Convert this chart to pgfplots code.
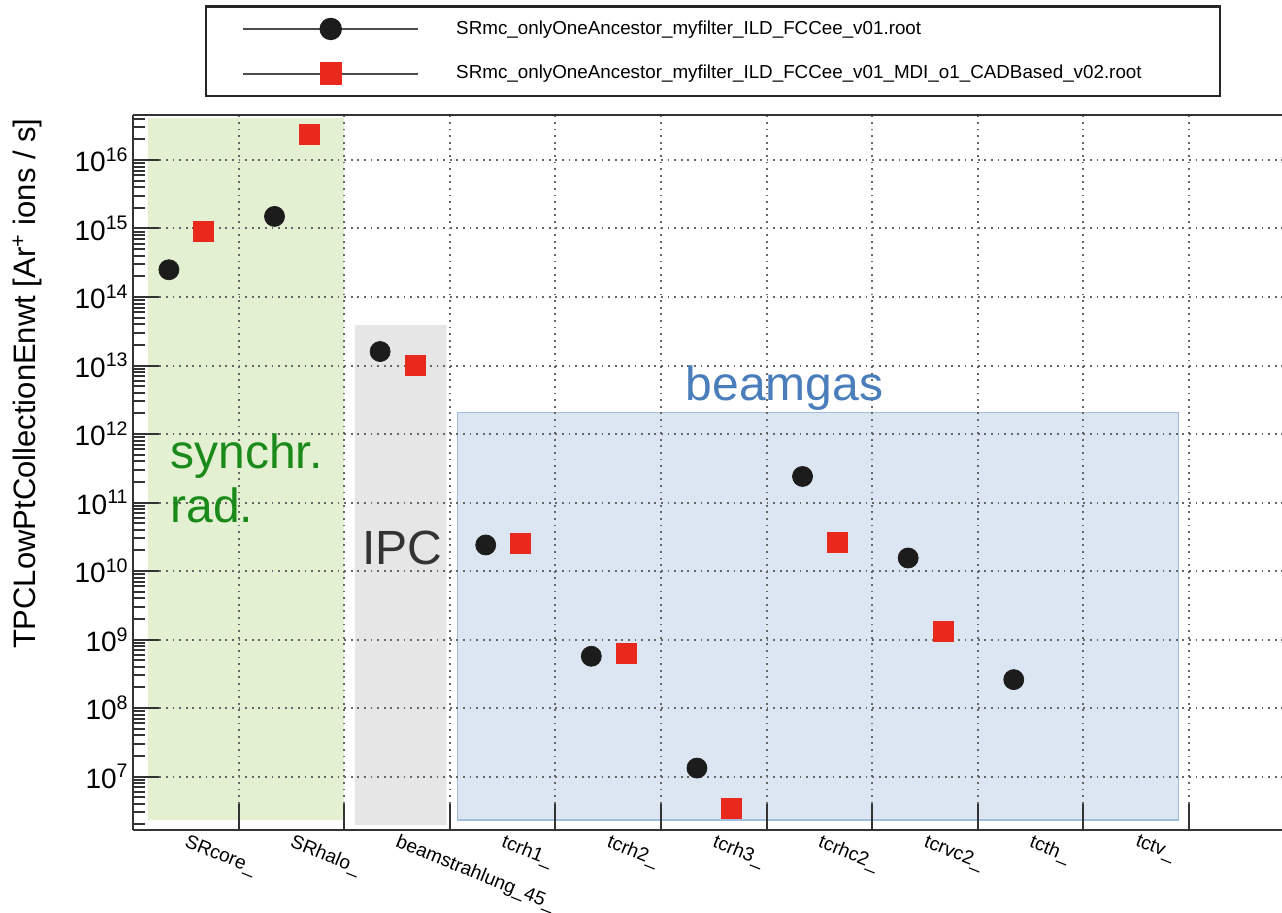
\documentclass[border=0pt]{standalone}
\usepackage{fontspec}
\setmainfont{Liberation Sans}
\usepackage{pgfplots}
\pgfplotsset{compat=1.18}
\definecolor{srfill}{HTML}{E4F0D2}
\definecolor{ipcfill}{HTML}{E6E6E6}
\definecolor{bgfill}{HTML}{DCE6F2}
\definecolor{bgedge}{HTML}{A3BDDD}
\definecolor{syncol}{HTML}{1A8A1A}
\definecolor{ipccol}{HTML}{333333}
\definecolor{bgcol}{HTML}{4A7EBB}
\definecolor{mkblack}{HTML}{1C1C1C}
\definecolor{mkred}{HTML}{E8291C}
\begin{document}
\begin{tikzpicture}
\begin{axis}[
  set layers,
  scale only axis,
  width=574.5pt, height=357.5pt,
  xmin=0, xmax=10.88,
  ymode=log, ymin=1.66e6, ymax=4.54e16,
  axis x line*=box, axis y line*=left,
  axis line style={-, line width=1.3pt, black!80},
  xtick pos=bottom,
  xtick={0,1,...,10}, xticklabels={},
  extra x ticks={0.5,1.5,2.5,3.5,4.5,5.5,6.5,7.5,8.5,9.5},
  extra x tick labels={SRcore\_, SRhalo\_, beamstrahlung\_45\_, tcrh1\_, tcrh2\_, tcrh3\_, tcrhc2\_, tcrvc2\_, tcth\_, tctv\_},
  extra x tick style={major tick length=0pt, grid=none},
  xticklabel style={font=\fontsize{9.6}{11}\selectfont, rotate=-22, anchor=north west, inner sep=1pt, xshift=1pt, yshift=0pt},
  xmajorgrids, ymajorgrids,
  grid style={black!60, line width=1pt, dash pattern=on 0.9pt off 2.4pt},
  ytick={1e7,1e8,1e9,1e10,1e11,1e12,1e13,1e14,1e15,1e16},
  yticklabels={10\textsuperscript{7},10\textsuperscript{8},10\textsuperscript{9},10\textsuperscript{10},10\textsuperscript{11},10\textsuperscript{12},10\textsuperscript{13},10\textsuperscript{14},10\textsuperscript{15},10\textsuperscript{16}},
  minor ytick={2e6,3e6,4e6,5e6,6e6,7e6,8e6,9e6,
    2e7,3e7,4e7,5e7,6e7,7e7,8e7,9e7,
    2e8,3e8,4e8,5e8,6e8,7e8,8e8,9e8,
    2e9,3e9,4e9,5e9,6e9,7e9,8e9,9e9,
    2e10,3e10,4e10,5e10,6e10,7e10,8e10,9e10,
    2e11,3e11,4e11,5e11,6e11,7e11,8e11,9e11,
    2e12,3e12,4e12,5e12,6e12,7e12,8e12,9e12,
    2e13,3e13,4e13,5e13,6e13,7e13,8e13,9e13,
    2e14,3e14,4e14,5e14,6e14,7e14,8e14,9e14,
    2e15,3e15,4e15,5e15,6e15,7e15,8e15,9e15,
    2e16,3e16,4e16},
  yticklabel style={font=\fontsize{14}{16}\selectfont, inner sep=2pt},
  major tick length=13pt, minor tick length=6pt,
  tick style={black!80, line width=1pt},
  tick align=inside,
  ylabel={TPCLowPtCollectionEnwt [Ar\textsuperscript{+} ions / s]},
  ylabel style={font=\fontsize{15.5}{17}\selectfont, at={(axis description cs:-0.073,1.005)}, anchor=south east, rotate=0},
  legend style={at={(axis description cs:0.505,1.025)}, anchor=south, draw=black!85, line width=1.2pt,
    font=\fontsize{9.4}{11}\selectfont, cells={anchor=west}, inner xsep=18pt, inner ysep=5pt,
    row sep=10pt, column sep=16.5pt},
  legend image code/.code={
    \draw[black!70, line width=1pt] (0pt,0pt) -- (87.5pt,0pt);
    \draw[#1] plot coordinates {(43.75pt,0pt)};
  },
]
% shaded regions
\addplot[on layer=axis background, fill=srfill, draw=none, forget plot]
  coordinates {(0.14,2.32e6) (2.0,2.32e6) (2.0,4.1e16) (0.14,4.1e16) (0.14,2.32e6)};
\addplot[on layer=axis background, fill=ipcfill, draw=none, forget plot]
  coordinates {(2.10,1.95e6) (2.97,1.95e6) (2.97,3.9e13) (2.10,3.9e13) (2.10,1.95e6)};
\addplot[on layer=axis background, fill=bgfill, draw=bgedge, line width=0.6pt, forget plot]
  coordinates {(3.07,2.32e6) (9.90,2.32e6) (9.90,2.04e12) (3.07,2.04e12) (3.07,2.32e6)};
% data
\addplot[only marks, mark=*, mark size=5pt, color=mkblack] coordinates {
  (0.34,2.5e14) (1.34,1.5e15) (2.34,1.6e13) (3.34,2.4e10) (4.34,5.7e8)
  (5.34,1.33e7) (6.34,2.4e11) (7.34,1.55e10) (8.34,2.6e8)};
\addlegendentry{\makebox[362pt][l]{SRmc\_onlyOneAncestor\_myfilter\_ILD\_FCCee\_v01.root}}
\addplot[only marks, mark=square*, mark size=5pt, color=mkred] coordinates {
  (0.67,9e14) (1.67,2.4e16) (2.67,1e13) (3.67,2.5e10) (4.67,6.3e8)
  (5.67,3.4e6) (6.67,2.6e10) (7.67,1.33e9)};
\addlegendentry{\makebox[362pt][l]{SRmc\_onlyOneAncestor\_myfilter\_ILD\_FCCee\_v01\_MDI\_o1\_CADBased\_v02.root}}
% annotations
\node[anchor=base west, text=syncol, font=\fontsize{24}{27}\selectfont, inner sep=0pt] at (axis cs:0.35,3.16e11) {synchr.};
\node[anchor=base west, text=syncol, font=\fontsize{24}{27}\selectfont, inner sep=0pt] at (axis cs:0.35,5.19e10) {rad.};
\node[anchor=base west, text=ipccol, font=\fontsize{24}{27}\selectfont, inner sep=0pt] at (axis cs:2.17,1.23e10) {IPC};
\node[anchor=base west, text=bgcol, font=\fontsize{24}{27}\selectfont, inner sep=0pt] at (axis cs:5.23,3.13e12) {beamgas};
\end{axis}
\pgfresetboundingbox
\path (current axis.south west) ++(-66.5pt,-41.5pt) rectangle ++(641pt,456.5pt);
\end{tikzpicture}
\end{document}
